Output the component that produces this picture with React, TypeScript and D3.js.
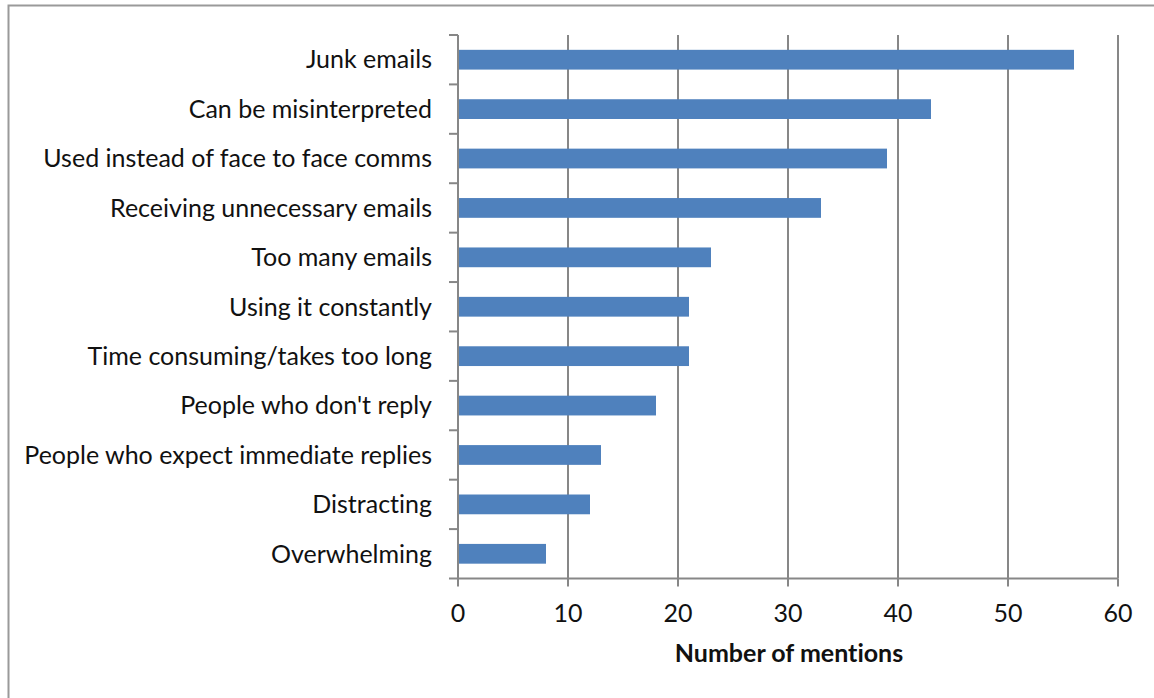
import React from "react";
import * as d3 from "d3";

const categories = [
  "Junk emails",
  "Can be misinterpreted",
  "Used instead of face to face comms",
  "Receiving unnecessary emails",
  "Too many emails",
  "Using it constantly",
  "Time consuming/takes too long",
  "People who don't reply",
  "People who expect immediate replies",
  "Distracting",
  "Overwhelming",
];
const mentions = [56, 43, 39, 33, 23, 21, 21, 18, 13, 12, 8];
const xTicks = [0, 10, 20, 30, 40, 50, 60];
const xTitle = "Number of mentions";

const W = 1154;
const H = 698;
const FONT = "Lato, 'Open Sans', sans-serif";
const FS = 25;

export default function App() {
  const left = 458;
  const right = 1118;
  const top = 35;
  const bottom = 578.5;
  const x = d3.scaleLinear().domain([0, 60]).range([left, right]);
  const y = d3.scaleBand<string>().domain(categories).range([top, bottom]).paddingInner(0.6).paddingOuter(0.3);
  const yb = d3.scaleBand<string>().domain(categories).range([top, bottom]);
  const grid = "#878787";
  const txt = { fontVariantLigatures: "none" as const };
  return (
    <svg width={W} height={H} style={{ position: "absolute", left: 0, top: 0, background: "#fff" }}>
      <rect x={8.5} y={5.5} width={W + 10} height={H + 10} fill="#fff" stroke="#9a9a9a" strokeWidth={2} />
      {xTicks.slice(1).map((t) => (
        <line key={"g" + t} x1={x(t)} x2={x(t)} y1={top} y2={bottom} stroke={grid} strokeWidth={2} />
      ))}
      {categories.map((c, i) => (
        <rect key={c} x={x(0)} y={y(c)} width={x(mentions[i]) - x(0)} height={y.bandwidth()} fill="#4F81BD" />
      ))}
      <line x1={left} x2={left} y1={top} y2={bottom} stroke={grid} strokeWidth={2} />
      <line x1={left - 9} x2={right} y1={bottom} y2={bottom} stroke={grid} strokeWidth={2} />
      {categories.map((c) => (
        <line key={"t" + c} x1={left - 9} x2={left} y1={yb(c)!} y2={yb(c)!} stroke={grid} strokeWidth={2} />
      ))}
      {xTicks.map((t) => (
        <line key={"xt" + t} x1={x(t)} x2={x(t)} y1={bottom} y2={bottom + 8} stroke={grid} strokeWidth={2} />
      ))}
      {categories.map((c) => (
        <text key={"l" + c} style={txt} x={432} y={y(c)! + y.bandwidth() / 2} dy="0.35em" textAnchor="end" fontFamily={FONT} fontSize={FS} fill="#111">
          {c}
        </text>
      ))}
      {xTicks.map((t) => (
        <text key={"xl" + t} style={txt} x={x(t)} y={613} dy="0.35em" textAnchor="middle" fontFamily={FONT} fontSize={FS} fill="#111">
          {t}
        </text>
      ))}
      <text x={789} y={653} style={txt} dy="0.35em" textAnchor="middle" fontFamily={FONT} fontSize={FS} fontWeight="bold" fill="#111">
        {xTitle}
      </text>
    </svg>
  );
}
